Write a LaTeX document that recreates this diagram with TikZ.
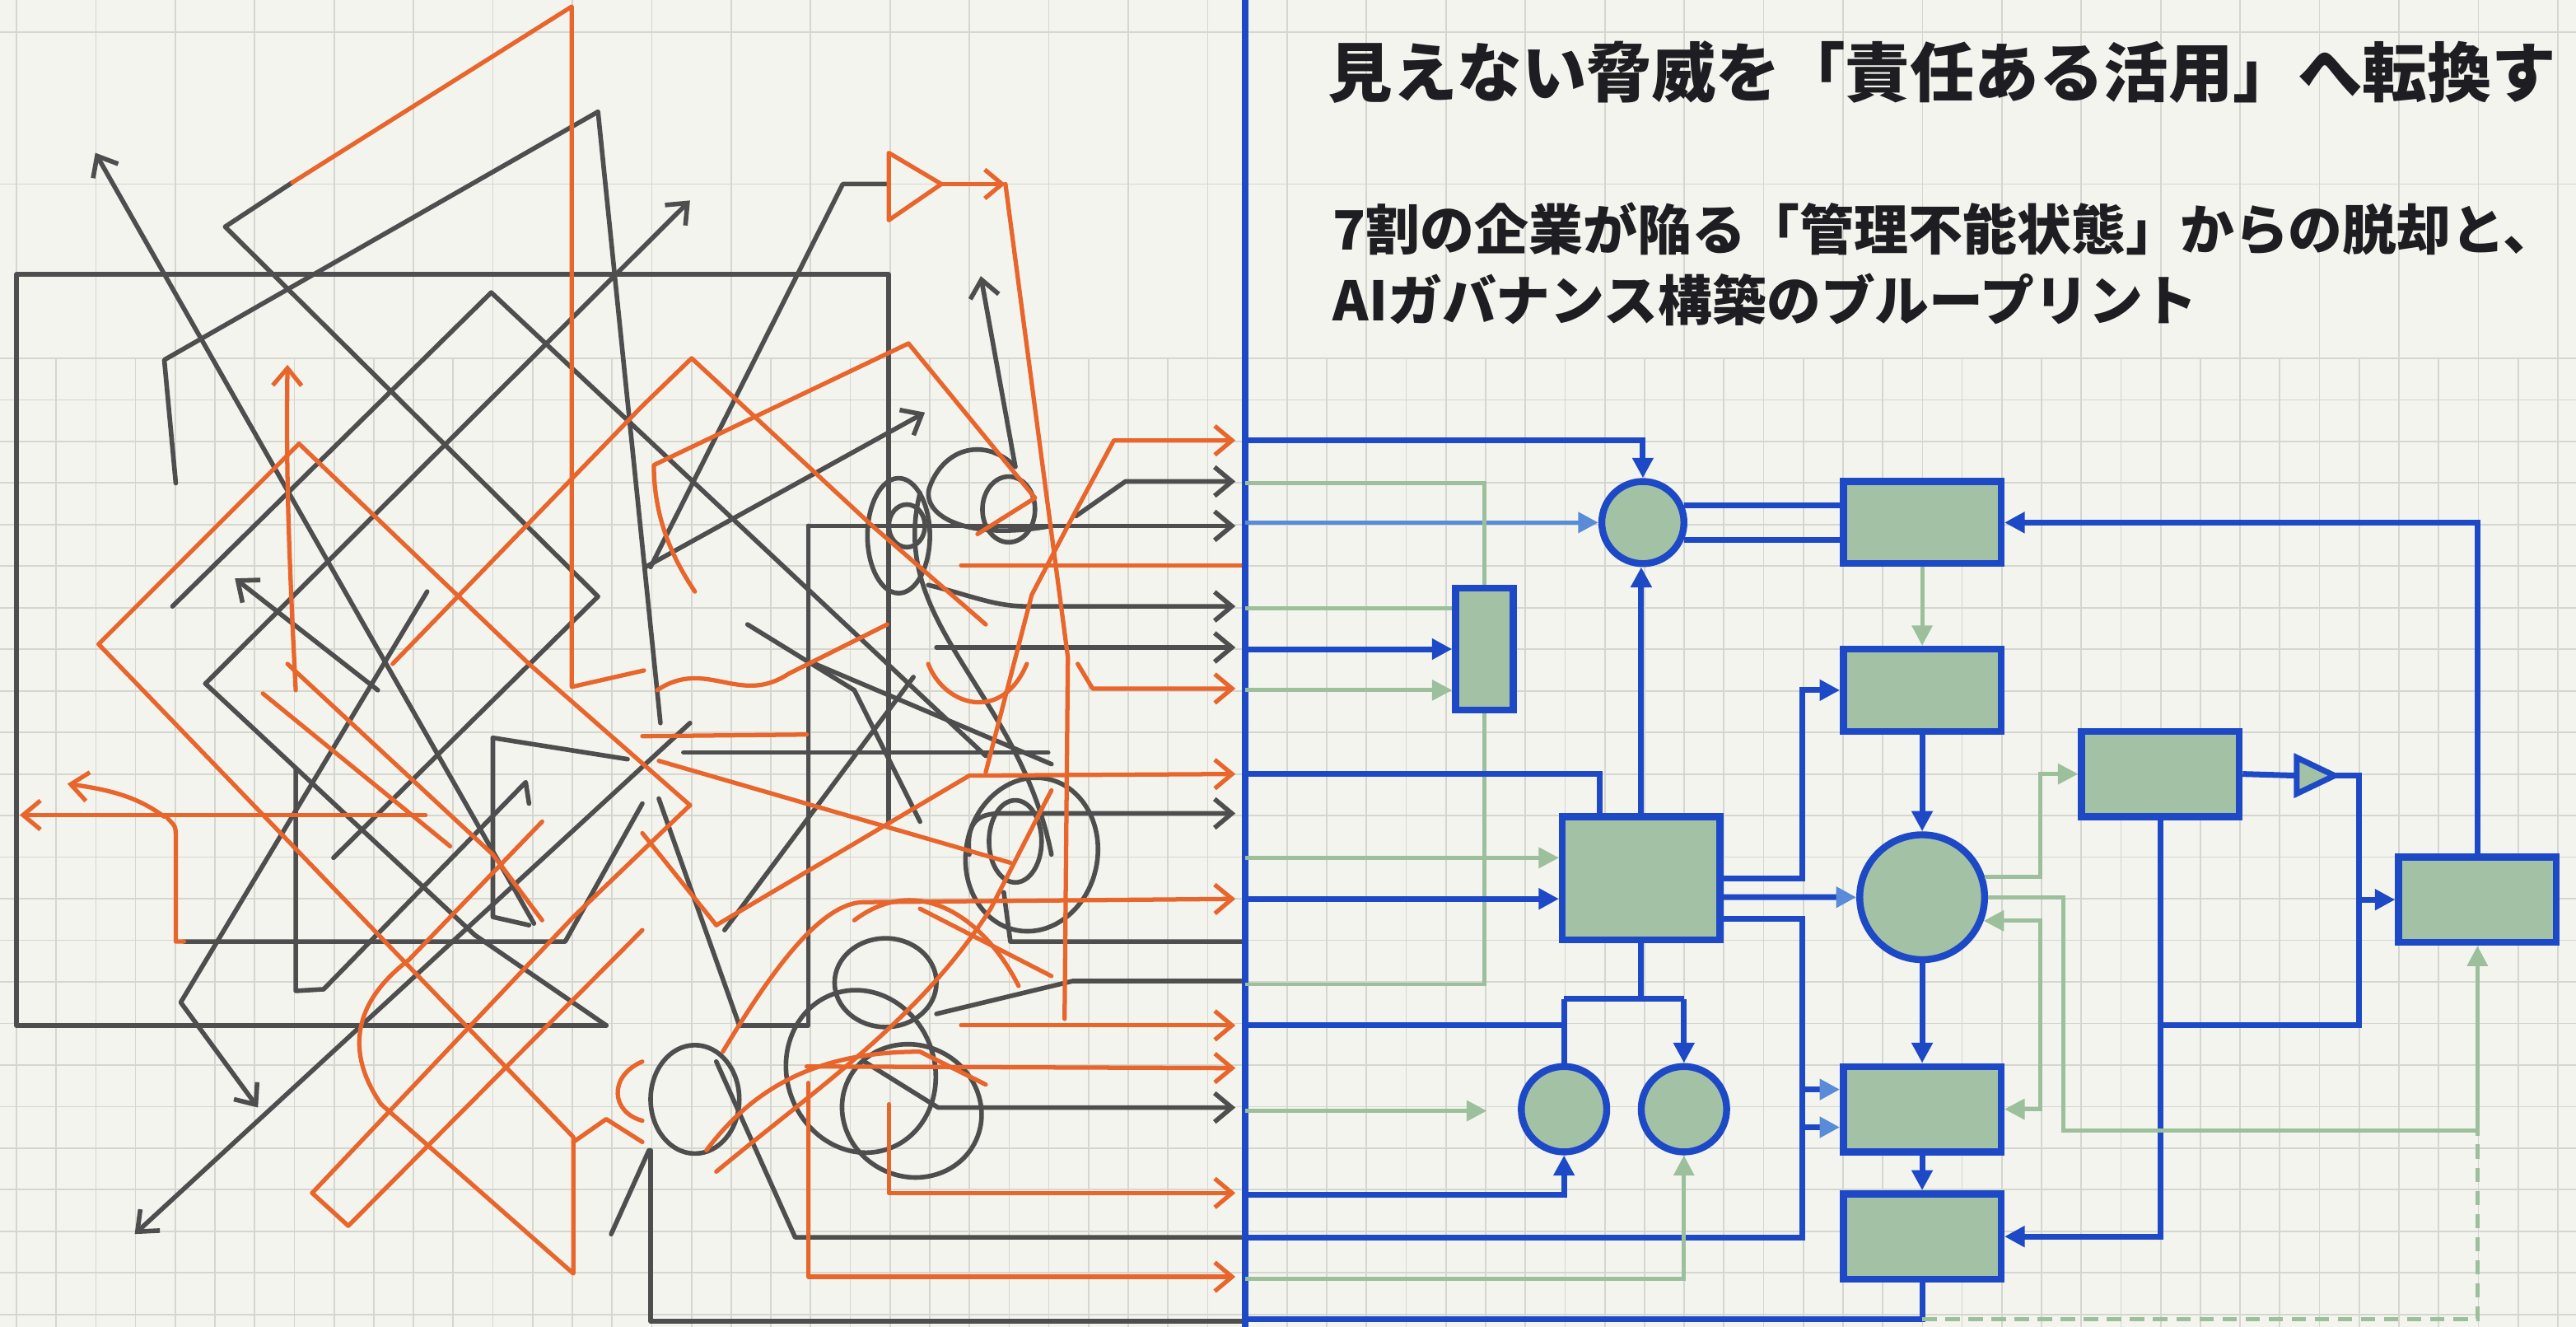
\documentclass[tikz,border=0pt]{standalone}
\usepackage{fontspec}
\newfontfamily\jp{Noto Sans CJK JP}
\usetikzlibrary{arrows.meta,calc}
\definecolor{bgc}{HTML}{F4F4EE}
\definecolor{gridc}{HTML}{D6D6D0}
\definecolor{bluec}{HTML}{1D49C6}
\definecolor{lbluec}{HTML}{5A8BD8}
\definecolor{greenf}{HTML}{A3C2A5}
\definecolor{greenl}{HTML}{9CBF9C}
\definecolor{grayc}{HTML}{4E4E4E}
\definecolor{orc}{HTML}{E8652C}
\definecolor{titlec}{HTML}{1E1E22}
\begin{document}
\begin{tikzpicture}[x=0.02cm,y=-0.02cm,
  gridl/.style={draw=gridc,line width=0.5pt},
  gy/.style={draw=grayc,line width=1.6pt,line join=round,line cap=round},
  orl/.style={draw=orc,line width=1.5pt,line join=round,line cap=round},
  ga/.style={gy,-{Straight Barb[length=6pt,width=10pt]}},
  oa/.style={orl,-{Straight Barb[length=6pt,width=10pt]}},
  bl/.style={draw=bluec,line width=2pt},
  bla/.style={bl,-{Triangle[length=7pt,width=7pt]}},
  lba/.style={bl,-{Triangle[length=7pt,width=7pt,color=lbluec]}},
  lbl/.style={draw=lbluec,line width=1.6pt,-{Triangle[length=7pt,width=7pt]}},
  gr/.style={draw=greenl,line width=1.4pt},
  gra/.style={gr,-{Triangle[length=7pt,width=7pt]}},
  box/.style={draw=bluec,fill=greenf,line width=2.4pt,inner sep=0pt,shape=rectangle},
  circ/.style={draw=bluec,fill=greenf,line width=2.4pt,inner sep=0pt,shape=circle},
  tri/.style={draw=bluec,fill=greenf,line width=2pt,line join=miter},
  txt/.style={anchor=base west,inner sep=0pt,text=titlec}
]
% background and bounding box
\fill[bgc] (0,0) rectangle (1568,807.5);
\useasboundingbox (0,0) rectangle (1568,807.5);
% grid
\foreach \k in {0,...,64} \draw[gridl] ({10+24.17*\k},218) -- ({10+24.17*\k},807.5);
\foreach \k in {0,2,...,64} \draw[gridl] ({10+24.17*\k},0) -- ({10+24.17*\k},218);
\foreach \j in {0,...,23} \draw[gridl] (0,{218+25.3*\j}) -- (1568,{218+25.3*\j});
\draw[gridl] (0,19.5) -- (1568,19.5);
\draw[gridl] (0,112) -- (1568,112);

% ================= chaotic left half =================
% gray strokes
\draw[gy] (10,624) -- (10,167) -- (541,167) -- (541,500);
\draw[gy] (10,624) -- (369,624);
\draw[ga] (325,562) -- (58,93);
\draw[gy] (178,111) -- (137,138) -- (364,363) -- (203,522);
\draw[gy] (107,294) -- (100,219) -- (364,68) -- (402,440);
\draw[gy] (105,369) -- (299,178) -- (600,460);
\draw[ga] (125,416) -- (420,122);
\draw[gy] (125,416) -- (289,569) -- (369,624);
\draw[ga] (230,420) -- (143,352);
\draw[ga] (260,360) -- (110,610) -- (157,674);
\draw[ga] (420,440) -- (82,751);
\draw[gy] (180,468) -- (180,603) -- (197,602) -- (320,476) -- (322,489);
\draw[gy] (300,449) -- (300,558) -- (322,563);
\draw[gy] (300,449) -- (382,462);
\draw[gy] (112,573) -- (344,573) -- (391,489);
\draw[gy] (541,112) -- (513,112) -- (396,345);
\draw[ga] (393,345) -- (563,251);
\draw[ga] (618,284) -- (597,168);
\draw[gy] (618,284) .. controls (600,266) and (575,272) .. (566,296) .. controls (560,312) and (585,330) .. (640,320);
\draw[ga] (655,314) -- (685,293) -- (752,293);
\draw[gy] (450,624) -- (492,624) -- (492,320);
\draw[gy] (401,486) -- (450,624);
\draw[ga] (492,320) -- (752,320);
\draw[ga] (565,356) .. controls (590,362) and (605,369) .. (625,369) -- (752,369);
\draw[ga] (570,394) -- (752,394);
\draw[ga] (590,520) .. controls (588,500) and (595,495) .. (610,495) -- (752,495);
\draw[gy] (611,543) -- (615,573) -- (756,573);
\draw[gy] (570,617) -- (653,597) -- (756,597);
\draw[ga] (526,646) -- (571,674) -- (752,674);
\draw[gy] (436,646) -- (484,753) -- (756,753);
\draw[gy] (396,700) -- (396,804) -- (756,804);
\draw[gy] (416,458) -- (638,458);
\draw[gy] (496,404) -- (640,465);
\draw[gy] (441,566) -- (556,412);
\draw[gy] (372,751) -- (395,700);
\draw[gy] (455,380) -- (520,420) -- (560,500);
% gray loops
\draw[gy,rotate around={-12:(628,520)}] (628,520) ellipse [x radius=0.8cm,y radius=0.94cm];
\draw[gy] (618,512) ellipse [x radius=0.32cm,y radius=0.5cm];
\draw[gy] (539,598) ellipse [x radius=0.62cm,y radius=0.54cm];
\draw[gy,rotate around={20:(524,652)}] (524,652) ellipse [x radius=0.9cm,y radius=1.0cm];
\draw[gy,rotate around={-25:(555,676)}] (555,676) ellipse [x radius=0.86cm,y radius=0.8cm];
\draw[gy] (547,326) ellipse [x radius=0.38cm,y radius=0.7cm];
\draw[gy] (552,320) ellipse [x radius=0.22cm,y radius=0.26cm];
\draw[gy] (614,310) ellipse [x radius=0.32cm,y radius=0.4cm];
\draw[gy] (423,669) ellipse [x radius=0.54cm,y radius=0.66cm];
\draw[gy] (560,300) .. controls (540,380) and (620,420) .. (640,520);
% orange strokes
\draw[orl] (178,111) -- (348,4) -- (348,418) -- (392,408);
\draw[oa] (180,420) .. controls (176,340) and (174,290) .. (175,222);
\draw[orl] (182,270) -- (60,392) -- (349,692) -- (349,775) -- (232,672);
\draw[orl] (182,270) -- (322,404) -- (420,490);
\draw[orl] (239,404) -- (391,247) -- (421,218) -- (531,320) -- (600,380);
\draw[orl] (423,360) .. controls (406,335) and (398,310) .. (398,283) -- (553,209) -- (630,303) -- (595,325);
\draw[orl] (541,93) -- (541,134) -- (573,112) -- cycle;
\draw[oa] (573,112) -- (612,112);
\draw[orl] (612,112) -- (650,400) -- (648,620);
\draw[oa] (600,470) -- (628,362) -- (650,320) -- (678,268) -- (752,268);
\draw[orl] (585,344) -- (756,344);
\draw[oa] (656,404) -- (665,419) -- (752,419);
\draw[oa] (436,563) -- (590,472) -- (752,471);
\draw[oa] (440,640) .. controls (470,590) and (500,549) .. (526,549) -- (752,547);
\draw[oa] (585,624) -- (752,624);
\draw[oa] (491,649) -- (752,650);
\draw[oa] (541,672) -- (541,726) -- (752,726);
\draw[oa] (492,659) -- (492,777) -- (752,777);
\draw[oa] (105,496) -- (12,496);
\draw[orl] (259,496) -- (105,496);
\draw[orl] (102,498) .. controls (107,503) .. (107,510) -- (107,573) -- (112,573);
\draw[oa] (100,497) .. controls (85,486) and (70,481) .. (41,477);
\draw[orl] (160,422) -- (274,515);
\draw[orl] (175,404) -- (300,520) -- (330,560);
\draw[orl] (190,726) -- (212,746) -- (391,566);
\draw[orl] (190,726) -- (349,558) -- (420,490);
\draw[orl] (232,672) .. controls (210,640) and (215,610) .. (249,584) -- (330,500);
\draw[orl] (349,695) -- (369,681) -- (391,695);
\draw[orl] (391,646) .. controls (370,655) and (372,677) .. (391,682);
\draw[orl] (391,448) -- (491,447);
\draw[orl] (391,507) -- (436,563);
\draw[orl] (401,463) -- (615,525);
\draw[orl] (436,713) .. controls (500,660) and (560,620) .. (603,553) .. controls (620,520) and (630,500) .. (640,481);
\draw[orl] (560,553) -- (640,594);
\draw[orl] (565,404) .. controls (575,430) and (610,440) .. (625,404);
\draw[orl] (400,420) .. controls (430,400) and (450,430) .. (480,410) -- (540,380);
\draw[orl] (430,700) .. controls (460,660) and (500,640) .. (560,640) -- (600,660);
\draw[orl] (520,560) .. controls (560,530) and (600,560) .. (620,600);

% ================= bus =================
\coordinate (bt) at (758,0);
\coordinate (bb) at (758,807.5);
\draw[draw=bluec,line width=2.4pt] (bt) -- (bb);
\foreach \yy in {268,294,318,370,395,420,471,522,547,599,624,676,727,753,778,803}
  \coordinate (t\yy) at (758,\yy);

% ================= block diagram nodes =================
\node[circ,minimum size=1.0cm] (A) at (1000,318) {};
\node[box,minimum width=1.92cm,minimum height=1.0cm] (B) at (1170,318) {};
\node[box,minimum width=1.92cm,minimum height=1.0cm] (C) at (1170,420) {};
\node[box,minimum width=0.7cm,minimum height=1.48cm] (D) at (903.5,395) {};
\node[box,minimum width=1.92cm,minimum height=1.5cm] (E) at (999,534.5) {};
\node[circ,minimum size=1.52cm] (F) at (1170,546) {};
\node[box,minimum width=1.92cm,minimum height=1.04cm] (G) at (1315,471) {};
\node[box,minimum width=1.92cm,minimum height=1.04cm] (H) at (1508,547.5) {};
\node[circ,minimum size=1.04cm] (I) at (952,675) {};
\node[circ,minimum size=1.04cm] (J) at (1025,675) {};
\node[box,minimum width=1.92cm,minimum height=1.04cm] (K) at (1170,675) {};
\node[box,minimum width=1.92cm,minimum height=1.04cm] (L) at (1170,752.5) {};
\coordinate (Tw) at (1398,472);
\coordinate (Te) at (1421,472);
\draw[tri] (1398,461) -- (Te) -- (1398,483) -- cycle;

% helper coordinates
\coordinate (kx) at (1097,0);
\coordinate (k663) at (1097,663);
\coordinate (k686) at (1097,686);
\coordinate (eb) at (999,608);
\coordinate (g676) at (905,676);
\coordinate (tx1) at (1436,472);
\coordinate (tx2) at (1436,624);
\coordinate (gx) at (1242,0);
\coordinate (gx2) at (1256,0);
\coordinate (hx) at (1508,688);

% ================= connectors =================
\draw[bla] (t268) -| (A.north);
\draw[lbl] (t318) -- (A.west);
\draw[gr] (t294) -| (D.north);
\draw[gr] (D.south) |- (t599);
\draw[gr] (t370) -- (t370 -| D.west);
\draw[bla] (t395) -- (D.west);
\draw[gra] (t420) -- (t420 -| D.west);
\draw[bl] (t471) -| ($(E.north west)+(25,0)$);
\draw[bla] (E.north) -- (E.north |- A.south);
\draw[gra] (t522) -- (t522 -| E.west);
\draw[bla] (t547) -- (t547 -| E.west);
\draw[bla] (E.east) -- (E.east -| kx) |- (C.west);
\draw[lba] ($(E.east)+(0,11.5)$) -- (F.west);
\draw[bl] ($(E.east)+(0,24.5)$) -| (t753 -| kx) -- (t753);
\draw[lba] (k663) -- (k663 -| K.west);
\draw[lba] (k686) -- (k686 -| K.west);
\draw[bl] (A.23.6) -- (A.23.6 -| B.west);
\draw[bl] (A.-23.6) -- (A.-23.6 -| B.west);
\draw[gra] (B.south) -- (C.north);
\draw[bla] (C.south) -- (F.north);
\draw[bla] (F.south) -- (K.north);
\draw[bla] (K.south) -- (L.north);
\draw[bl] (E.south) -- (eb);
\draw[bl] (eb -| I.north) -- (eb -| J.north);
\draw[bl] (eb -| I.north) -- (I.north);
\draw[bla] (eb -| J.north) -- (J.north);
\draw[bl] (t624) -- (t624 -| I.north);
\draw[gra] (t676) -- (g676);
\draw[bla] (t727) -| (I.south);
\draw[gra] (t778) -| (J.south);
\draw[bl] (t803) -| (L.south);
\draw[gr,dashed,dash pattern=on 5pt off 3pt] (t803 -| L.south) -- (t803 -| hx) -- (hx);
\draw[bl] (G.east) -- (Tw);
\draw[bl] (Te) -- (tx1) -- (tx2) -- (tx2 -| G.south);
\draw[bla] (tx1 |- H.west) -- (H.west);
\draw[bla] (G.south) |- (L.east);
\draw[bla] (H.north) |- (B.east);
\draw[gra] (F.18.4) -- (F.18.4 -| gx) -- (gx |- G.west) -- (G.west);
\draw[gra] (F.east) -- (F.east -| gx2) -- (gx2 |- hx) -- (hx) -- (H.south);
\draw[gr,{Triangle[length=7pt,width=7pt]}-{Triangle[length=7pt,width=7pt]}] (F.-21.6) -- (F.-21.6 -| gx) -- (gx |- K.east) -- (K.east);

% ================= text =================
\node[txt,font=\jp\bfseries\fontsize{22.4}{27}\selectfont] (title) at (808,59) {見えない脅威を「責任ある活用」へ転換す};
\node[txt,font=\jp\bfseries\fontsize{18.8}{22}\selectfont] (sub1) at (811,152) {7割の企業が陥る「管理不能状態」からの脱却と、};
\node[txt,font=\jp\bfseries\fontsize{18.8}{22}\selectfont] (sub2) at (811,195) {AIガバナンス構築のブループリント};
\end{tikzpicture}
\end{document}
